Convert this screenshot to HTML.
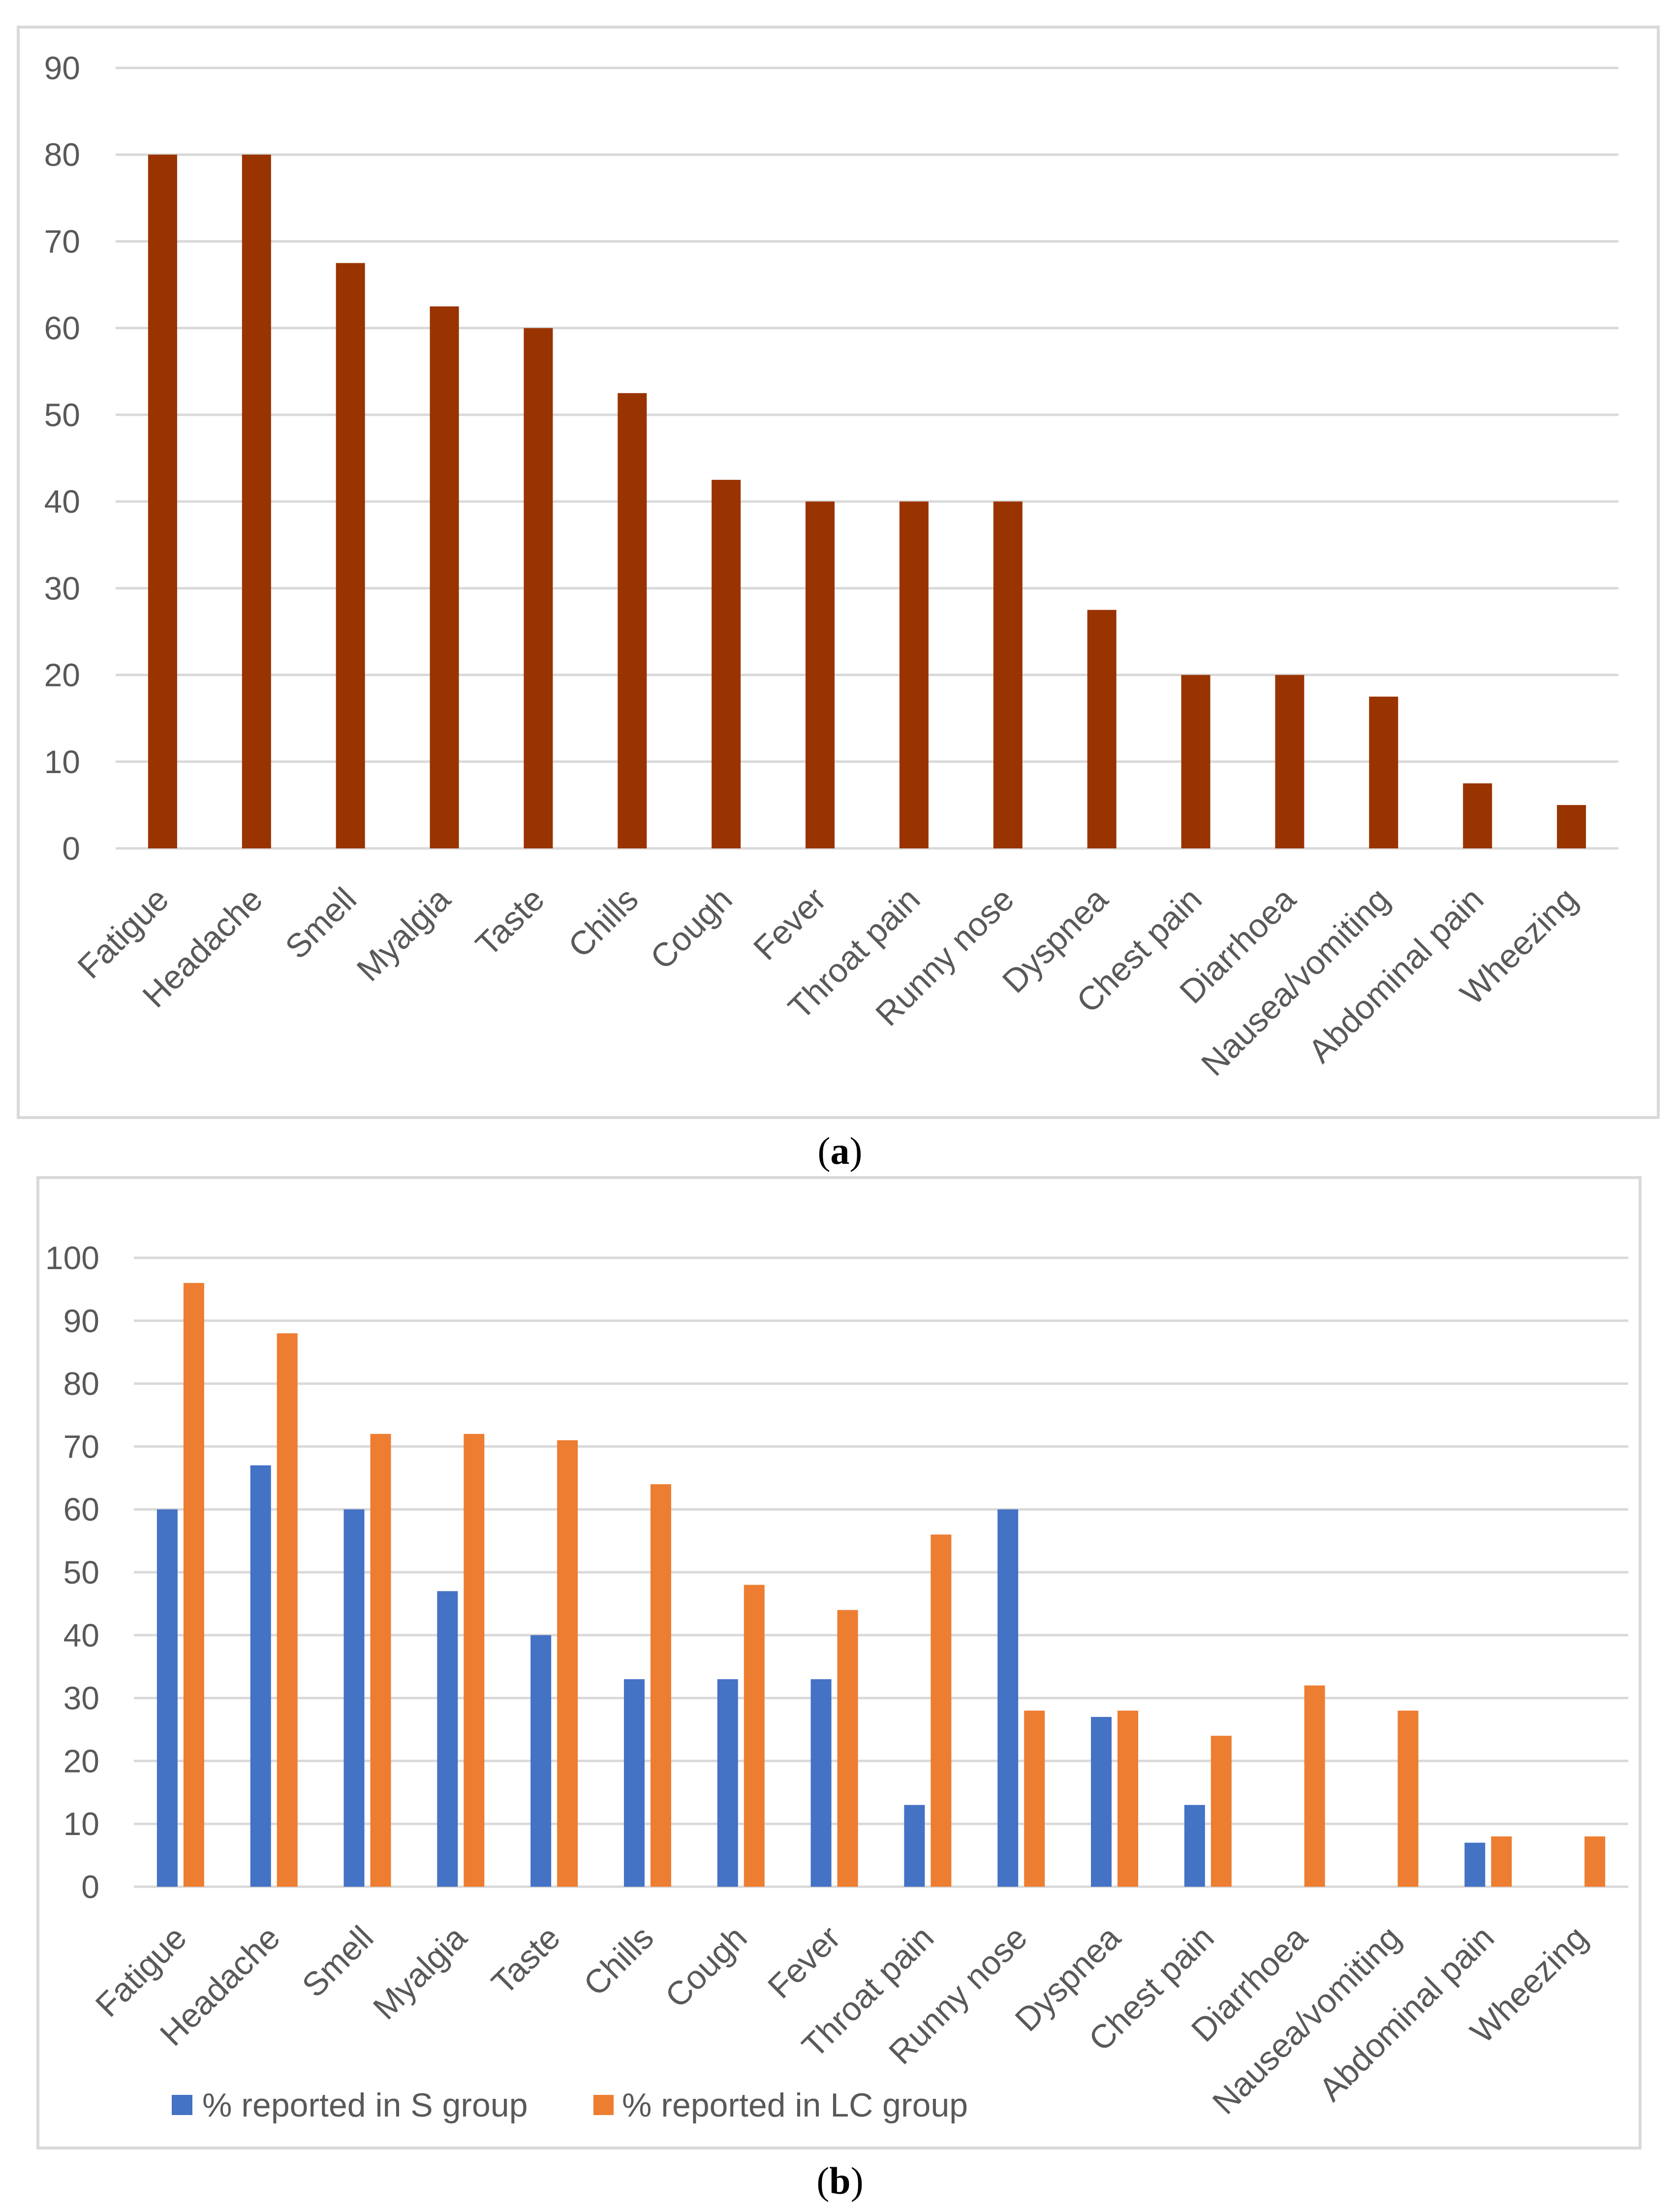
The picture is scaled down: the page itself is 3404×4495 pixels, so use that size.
<!DOCTYPE html>
<html><head><meta charset="utf-8"><style>
html,body{margin:0;padding:0;background:#fff;}
svg{display:block;}
text{font-family:"Liberation Sans",sans-serif;fill:#595959;}
</style></head><body>
<svg id="svg" width="3404" height="4495" viewBox="0 0 3404 4495" xmlns="http://www.w3.org/2000/svg">
<rect x="37" y="55" width="3333" height="2216" fill="#fff" stroke="#d9d9d9" stroke-width="6"/>
<rect x="77" y="2393" width="3256" height="1972" fill="#fff" stroke="#d9d9d9" stroke-width="6"/>
<g id="ga"></g>
<g id="gb"></g>
<text x="1707" y="2365" text-anchor="middle" style="font-family:'Liberation Serif',serif;font-size:78px;fill:#000;">(<tspan font-weight="bold">a</tspan>)</text>
<text x="1707" y="4458" text-anchor="middle" style="font-family:'Liberation Serif',serif;font-size:78px;fill:#000;">(<tspan font-weight="bold">b</tspan>)</text>
<rect x="349" y="4257" width="42" height="41" fill="#4472C4"/>
<text x="411" y="4301" font-size="68">% reported in S group</text>
<rect x="1206" y="4257" width="41" height="41" fill="#ED7D31"/>
<text x="1264" y="4301" font-size="68">% reported in LC group</text>
</svg>
<script>
const categories=["Fatigue","Headache","Smell","Myalgia","Taste","Chills","Cough","Fever","Throat pain","Runny nose","Dyspnea","Chest pain","Diarrhoea","Nausea/vomiting","Abdominal pain","Wheezing"];
const valuesA=[80,80,67.5,62.5,60,52.5,42.5,40,40,40,27.5,20,20,17.5,7.5,5];
const valuesS=[60,67,60,47,40,33,33,33,13,60,27,13,0,0,7,0];
const valuesLC=[96,88,72,72,71,64,48,44,56,28,28,24,32,28,8,8];
const ticksA=[0,10,20,30,40,50,60,70,80,90];
const ticksB=[0,10,20,30,40,50,60,70,80,90,100];
const NS="http://www.w3.org/2000/svg";
function mk(tag,attrs,parent){const e=document.createElementNS(NS,tag);for(const k in attrs)e.setAttribute(k,attrs[k]);parent.appendChild(e);return e;}
function chart(g,cfg){
  const x0=cfg.x0,x1=cfg.x1,yTop=cfg.yTop,yBot=cfg.yBot,max=cfg.max;
  const cw=(x1-x0)/categories.length;
  const y=v=>yBot-(v/max)*(yBot-yTop);
  const xc=i=>x0+cw*(i+0.5);
  cfg.ticks.forEach(t=>{
    const l=mk('line',{x1:x0,x2:x1,y1:y(t),y2:y(t),stroke:'#d9d9d9','stroke-width':5},g);
    
    
    const tx=mk('text',{x:cfg.tickX,y:y(t),'text-anchor':'end','dominant-baseline':'central','font-size':66},g);
    tx.textContent=t;
    
    
  });
  cfg.series.forEach(s=>{
    s.values.forEach((v,i)=>{
      const bx=xc(i)+s.off-s.w/2;
      const r=mk('rect',{x:bx,y:y(v),width:s.w,height:yBot-y(v),fill:s.color},g);
      
      
    });
  });
  categories.forEach((c,i)=>{
    const px=xc(i)+cfg.lx, py=yBot+cfg.ly;
    const t=mk('text',{x:px,y:py,'text-anchor':'end','dominant-baseline':'central','font-size':68,transform:'rotate(-45 '+px+' '+py+')'},g);
    t.textContent=c;
    
    
  });
}
chart(document.getElementById('ga'),{x0:235,x1:3289,yTop:138,yBot:1724,max:90,ticks:ticksA,tickX:163,lx:0,ly:92,
  series:[{key:'a',values:valuesA,color:'#993300',off:0,w:59}]});
chart(document.getElementById('gb'),{x0:272,x1:3309,yTop:2556,yBot:3834,max:100,ticks:ticksB,tickX:202,lx:0,ly:92,
  series:[{key:'s',values:valuesS,color:'#4472C4',off:-27,w:42},{key:'lc',values:valuesLC,color:'#ED7D31',off:27,w:42}]});
</script>
</body></html>
